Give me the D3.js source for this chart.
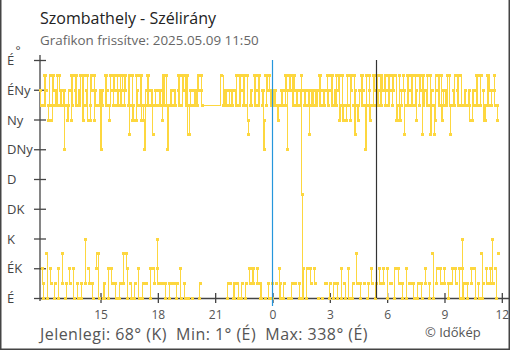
<!DOCTYPE html>
<html>
<head>
<meta charset="utf-8">
<script src="https://cdn.jsdelivr.net/npm/d3@7"></script>
<style>
  body { margin: 0; background: #fff; }
  svg { display: block; font-family: "Open Sans", sans-serif; }
</style>
</head>
<body>
<svg id="chart" width="510" height="350"></svg>
<script>
// Texts
const title = "Szombathely - Szélirány";
const subtitle = "Grafikon frissítve: 2025.05.09 11:50";
const summary = "Jelenlegi: 68° (K)  Min: 1° (É)  Max: 338° (É)";
const credit = "© Időkép";

// Direction axis (degrees) and compass labels
const dirTicks = [0, 45, 90, 135, 180, 225, 270, 315, 360];
const dirLabels = ["É", "ÉK", "K", "DK", "D", "DNy", "Ny", "ÉNy", "É"];

// Time axis, hours relative to midnight of 2025.05.09
const hourTicks = [-9, -6, -3, 0, 3, 6, 9, 12];
const hourLabels = ["15", "18", "21", "0", "3", "6", "9", "12"];
const startHour = -(12 + 10 / 60);   // 11:50 on the previous day
const endHour = 12.35;
const midnightHour = 0;
const markHour = 5.4;

// Wind direction readings, one string per hour starting at 11:50.
// Each character is a 2-minute reading as a 16-point compass sector
// (hex digit, 0 = É, 4 = K, 8 = D, c = Ny), '.' = no reading.
const sectorStep = 22.5;
const readings = [
  "edd210fdfe30dcdf21cdfe01dedf20", // 11:50
  "fede31dead01dcde21cfdf20fedf10", // 12:50
  "dedf01fcdf41edfc21dcfe10fcde23", // 13:50
  "d30deaded010fdfe20cdfe21fdfe10", // 14:50
  "dfed01fdef13dfe320dfbd10fcdc01", // 15:50
  "cfde20fdfc01dcade1fdfe20dedb21", // 16:50
  "ded421eded11cfdf01fdad10dede11", // 17:50
  "ded101fedf20dfef10fdfdb0bded00", // 18:50
  "e.d.e.d.fe01fed...............", // 19:50
  "..............f...d.eded01ded1", // 20:50
  "ded010edfd10fdfe01dfdf01dfcb21", // 21:50
  "ded212fdfe21fdf010edeac0fdfe10", // 22:50
  "fede01dede11dcd201dede01fdfea0", // 23:50
  "fefe01fdfe11dede10def702dede02", // 00:50
  "edeb21dede21dede00fdfe00dede11", // 01:50
  "efde01fedf01dedf10efcd20fcdc10", // 02:50
  "cdfd20fcfe01dfbe31dcde01fdfe11", // 03:50
  "dafd01efcd21fdfe01dfde21fdfe12", // 04:50
  "efde20fdfe11fdef02fcdc21fcde01", // 05:50
  "febd20fdfe11fdfd10fdec01fdfe10", // 06:50
  "bfde21edfd01fbde30dbcf12efdf21", // 07:50
  "fcde21dedf01fdbd12dedf21fedf20", // 08:50
  "fd4201dedd01dedc21cede20fdfd10", // 09:50
  "fdf301ecdc21fdfe12de41fed20cd3"  // 10:50
];

const yellow = "#fdd73f";
const axisColor = "#444";

// Decode the readings into points
const points = [];
readings.forEach((row, h) => {
  const chars = [...row];
  chars.forEach((c, i) => {
    if (c === ".") return;
    points.push({ t: startHour + h + i / chars.length, v: parseInt(c, 16) * sectorStep });
  });
});

// Split the trace where the direction wraps across north
const segments = [];
let current = [];
points.forEach((p, k) => {
  if (k > 0 && Math.abs(p.v - points[k - 1].v) > 180) {
    segments.push(current);
    current = [];
  }
  current.push(p);
});
segments.push(current);

const svg = d3.select("#chart");
const x = d3.scaleLinear().domain([startHour, endHour]).range([40, 508.5]);
const y = d3.scaleLinear().domain([0, 360]).range([298, 60]);

// Header
svg.append("text").attr("x", 40).attr("y", 24)
  .attr("font-size", 16).attr("fill", "#222").text(title);
svg.append("text").attr("x", 40).attr("y", 45)
  .attr("font-size", 13.4).attr("fill", "#666").text(subtitle);

// Y axis
const gy = svg.append("g").attr("transform", "translate(40,0)")
  .call(d3.axisLeft(y).tickValues(dirTicks)
    .tickFormat((d, i) => dirLabels[i]).tickSizeOuter(0));
gy.attr("font-family", null).attr("font-size", null);
gy.select(".domain").attr("d", `M0,${y(360) - 5}V${y(0) + 3}`)
  .attr("stroke", axisColor).attr("stroke-width", 1.3);
gy.selectAll(".tick line").attr("x1", -6).attr("x2", 6)
  .attr("stroke", axisColor).attr("stroke-width", 1.3);
gy.selectAll(".tick text").attr("x", -33).attr("dy", "0.36em")
  .attr("text-anchor", "start").attr("font-size", 13).attr("fill", axisColor);
svg.append("text").attr("x", 15.5).attr("y", 55)
  .attr("font-size", 12).attr("fill", axisColor).text("°");

// X axis
const gx = svg.append("g").attr("transform", `translate(0,${y(0)})`)
  .call(d3.axisBottom(x).tickValues(hourTicks)
    .tickFormat((d, i) => hourLabels[i]).tickSizeOuter(0));
gx.attr("font-family", null).attr("font-size", null);
gx.select(".domain").attr("stroke", axisColor).attr("stroke-width", 1.3);
gx.selectAll(".tick line").attr("y1", -5).attr("y2", 5)
  .attr("stroke", axisColor).attr("stroke-width", 1.3);
gx.selectAll(".tick text").attr("y", 12.5)
  .attr("font-size", 12).attr("fill", "#555");

// Direction trace: thin step line plus square markers
const line = d3.line().x(d => x(d.t)).y(d => Math.round(y(d.v)) + 0.5)
  .curve(d3.curveStepAfter);
svg.append("g").attr("shape-rendering", "crispEdges")
  .selectAll("path")
  .data(segments.filter(s => s.length > 1))
  .join("path")
  .attr("d", line)
  .attr("fill", "none")
  .attr("stroke", yellow)
  .attr("stroke-width", 1);
svg.append("g").attr("shape-rendering", "crispEdges")
  .selectAll("rect")
  .data(points)
  .join("rect")
  .attr("x", d => Math.round(x(d.t)) - 1)
  .attr("y", d => Math.round(y(d.v)) - 1)
  .attr("width", 3)
  .attr("height", 3)
  .attr("fill", yellow);

// Midnight and morning marker lines
svg.append("line")
  .attr("x1", Math.round(x(midnightHour)) + 0.5).attr("x2", Math.round(x(midnightHour)) + 0.5)
  .attr("y1", y(360)).attr("y2", y(0) + 8)
  .attr("stroke", "#2596dc").attr("stroke-width", 1.2);
svg.append("line")
  .attr("x1", Math.round(x(markHour)) + 0.5).attr("x2", Math.round(x(markHour)) + 0.5)
  .attr("y1", y(360)).attr("y2", y(0))
  .attr("stroke", "#333").attr("stroke-width", 1.2);

// Footer
svg.append("text").attr("x", 40).attr("y", 340)
  .attr("font-size", 16).attr("letter-spacing", 0.45).attr("fill", "#555")
  .style("white-space", "pre").text(summary);
svg.append("text").attr("x", 425).attr("y", 337)
  .attr("font-size", 13).attr("fill", "#555").text(credit);

// Frame
svg.append("path")
  .attr("d", "M0.75,0V349.25H509.25V0")
  .attr("fill", "none").attr("stroke", "#444").attr("stroke-width", 1.5);
</script>
</body>
</html>
